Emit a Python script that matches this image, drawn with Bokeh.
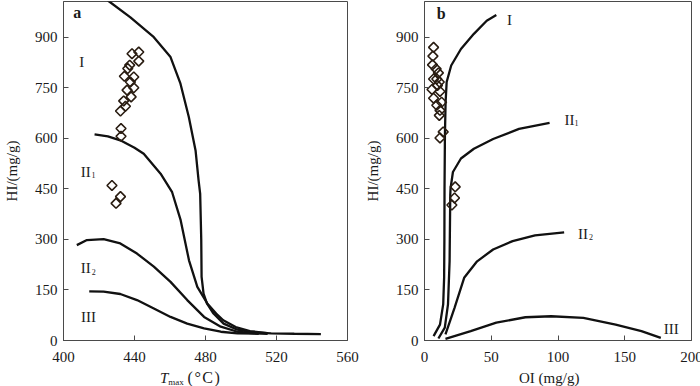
import math
from bokeh.plotting import figure
from bokeh.models import Range1d, Label, Div
from bokeh.layouts import row, column
from bokeh.embed import file_html
from bokeh.resources import INLINE

# ---------------- data: panel a (Tmax vs HI) ----------------
a_x_ticks = [400, 440, 480, 520, 560]
hi_ticks = [0, 150, 300, 450, 600, 750, 900]
b_x_ticks = [0, 50, 100, 150, 200]

a_I_x = [425, 437.7, 450.9, 460.3, 465.9, 470.6, 474.4, 476.1, 477, 477.6, 477.8, 478.9, 480.8, 484.5, 490.2, 498, 507, 517, 530, 545]
a_I_y = [1009, 959, 900, 841, 762, 663, 564, 475, 435, 300, 189, 139, 110, 80, 50, 32, 24, 21, 20, 19]
a_II1_x = [417.5, 425, 432, 440, 445.2, 454.7, 461.2, 466, 470.7, 475.4, 481, 486, 490, 497, 505, 515]
a_II1_y = [612, 606, 594, 572, 554, 495, 440, 357, 238, 159, 110, 80, 60, 40, 28, 22]
a_II2_x = [407.5, 413.2, 422.6, 432, 441.4, 450.9, 460.3, 469.7, 479.2, 488.6, 498, 507.4, 515]
a_II2_y = [283, 298, 301, 288, 258, 219, 174, 120, 70, 41, 26, 21, 20]
a_III_x = [414.5, 422.6, 432, 441.4, 450.9, 460.3, 469.7, 479.2, 488.6, 498, 510]
a_III_y = [146, 145, 138, 120, 95, 70, 50, 36, 26, 21, 20]

a_pts_tmax = [442.4, 438.6, 442.4, 437.3, 436.2, 439.6, 434.3, 437.7, 439.6, 435.8, 438.1, 433.9, 434.9, 432.1, 432.4, 432.4, 427.3, 432.1, 429.6]
a_pts_hi = [856, 851, 829, 817, 807, 782, 784, 767, 750, 743, 723, 711, 695, 681, 629, 606, 460, 427, 407]

# ---------------- data: panel b (OI vs HI) ----------------
b_I_x = [6.8, 11.6, 14, 14.7, 14.9, 15, 15.3, 15.8, 16.6, 20, 27.3, 37, 46.6, 53.8]
b_I_y = [13, 47, 107, 186, 300, 450, 609, 707, 767, 816, 865, 910, 949, 966]
b_II1_x = [10.4, 15.2, 17.6, 18.8, 19.3, 19.5, 21.3, 27.3, 37, 51.4, 70.8, 93.7]
b_II1_y = [6, 38, 107, 235, 432, 451, 500, 540, 569, 598, 628, 646]
b_II2_x = [15.7, 22.5, 29.7, 39.4, 51.4, 66, 82.8, 104.6]
b_II2_y = [18, 97, 186, 235, 270, 295, 312, 321]
b_III_x = [15.7, 34.6, 53.8, 75.6, 94.9, 119, 143.2, 162.5, 177]
b_III_y = [5, 28, 53, 69, 72, 67, 47, 28, 8]

b_pts_oi = [6.8, 6.3, 6.0, 8.7, 10.4, 6.8, 9.2, 11.1, 9.7, 5.6, 11.6, 6.8, 12.8, 9.2, 11.6, 11.1, 14.0, 11.6, 23, 22.5, 20.5]
b_pts_hi = [870, 844, 818, 806, 794, 776, 776, 767, 757, 745, 739, 719, 707, 698, 683, 668, 619, 601, 456, 423, 402]

FONT = "Liberation Serif"
TXT = "#1a1a1a"
FRAME = "#4a4a4a"
LINE = "#111111"
PT = "#2a1d12"
Y_TOP = 1006


def make_fig(xr, xticks, fw, bl, br, title_standoff):
    p = figure(frame_width=fw, frame_height=339, x_range=Range1d(*xr), y_range=Range1d(0, Y_TOP),
               output_backend="svg", toolbar_location=None,
               min_border_left=bl, min_border_right=br, min_border_top=1, min_border_bottom=30)
    p.xgrid.visible = False
    p.ygrid.visible = False
    p.outline_line_color = FRAME
    p.outline_line_width = 1
    p.background_fill_color = "white"
    p.border_fill_color = "white"
    p.xaxis.ticker = xticks
    p.yaxis.ticker = hi_ticks
    for ax in (p.xaxis, p.yaxis):
        ax.axis_line_color = FRAME
        ax.major_tick_line_color = FRAME
        ax.major_tick_in = 5
        ax.major_tick_out = 0
        ax.minor_tick_line_color = None
        ax.major_label_text_font = FONT
        ax.major_label_text_font_size = "15px"
        ax.major_label_text_color = TXT
    p.xaxis.major_label_standoff = 11
    p.yaxis.major_label_standoff = 6
    p.yaxis.axis_label = "HI/(mg/g)"
    p.yaxis.axis_label_text_font = FONT
    p.yaxis.axis_label_text_font_size = "15px"
    p.yaxis.axis_label_text_font_style = "normal"
    p.yaxis.axis_label_text_color = TXT
    p.yaxis.axis_label_standoff = title_standoff
    return p


def curve(p, xs, ys):
    p.line(xs, ys, line_color=LINE, line_width=2.3)


def lab(p, x, y, text, size="15px", align="center", baseline="middle", style="normal"):
    p.add_layout(Label(x=x, y=y, text=text, text_font=FONT, text_font_size=size,
                       text_color=TXT, text_align=align, text_baseline=baseline,
                       text_font_style=style))


# ---------------- panel a ----------------
pa = make_fig((400, 560), a_x_ticks, 284, 60, 14, 12)
curve(pa, a_I_x, a_I_y)
curve(pa, a_II1_x, a_II1_y)
curve(pa, a_II2_x, a_II2_y)
curve(pa, a_III_x, a_III_y)
pa.scatter(a_pts_tmax, a_pts_hi, marker="square", angle=math.pi / 4, size=7,
           line_color=PT, line_width=1.6, fill_color=None)

lab(pa, 405.5, 972, "a", size="16px", align="left", style="bold")
lab(pa, 410.3, 826, "I")
lab(pa, 409.7, 499, "II", align="left")
lab(pa, 415.8, 490, "1", size="8px", align="left")
lab(pa, 409.7, 214, "II", align="left")
lab(pa, 415.9, 204, "2", size="8px", align="left")
lab(pa, 414.1, 70, "III")

# ---------------- panel b ----------------
pb = make_fig((0, 200), b_x_ticks, 267, 61, 14, 12)
curve(pb, b_I_x, b_I_y)
curve(pb, b_II1_x, b_II1_y)
curve(pb, b_II2_x, b_II2_y)
curve(pb, b_III_x, b_III_y)
pb.scatter(b_pts_oi, b_pts_hi, marker="square", angle=math.pi / 4, size=7,
           line_color=PT, line_width=1.6, fill_color=None)

lab(pb, 9.2, 970, "b", size="16px", align="left", style="bold")
lab(pb, 63.6, 952, "I")
lab(pb, 104.8, 654, "II", align="left")
lab(pb, 112.3, 644, "1", size="8px", align="left")
lab(pb, 115.0, 317, "II", align="left")
lab(pb, 123.2, 306, "2", size="8px", align="left")
lab(pb, 184.9, 35, "III")

# ---------------- x-axis titles (HTML text) ----------------
base = ("font-family:'Liberation Serif'; font-size:15px; line-height:16px; "
        "color:#1a1a1a; white-space:nowrap;")
da = Div(text=(f'<div style="{base} padding-left:160px;"><i>T</i>'
               '<span style="font-size:9px; position:relative; top:2px;">max</span>'
               '&nbsp;<span style="font-size:16px; letter-spacing:1.5px;">(°C)</span></div>'),
         width=358, height=16, margin=(0, 0, 0, 0))
db = Div(text=f'<div style="{base} padding-left:158px;">OI (mg/g)</div>',
         width=342, height=16, margin=(0, 0, 0, 0))

layout = row(column(pa, da, spacing=0), column(pb, db, spacing=0), spacing=0)
open("out.html", "w").write(file_html(layout, INLINE))
